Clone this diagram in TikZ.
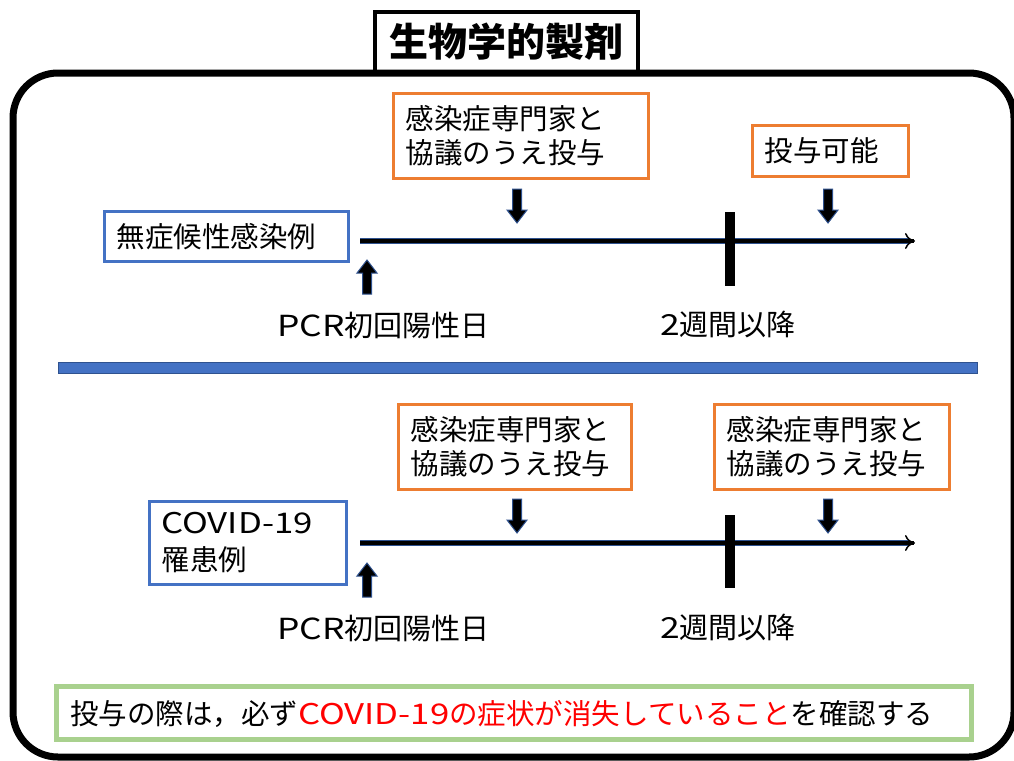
\documentclass[tikz,border=0pt]{standalone}
\usepackage{fontspec}
\setmainfont{Noto Sans CJK JP}
\newfontfamily\lat[FakeStretch=1.22]{Noto Sans CJK JP}
\usetikzlibrary{arrows.meta}
\definecolor{myorange}{HTML}{ED7D31}
\definecolor{myblue}{HTML}{4472C4}
\definecolor{mydarkblue}{HTML}{2F528F}
\definecolor{mygreen}{HTML}{A9D18E}
\tikzset{
  txt/.style={font=\fontsize{28.5}{34}\selectfont},
  obox/.style={draw=myorange, line width=3, inner xsep=12, inner ysep=0, align=left, anchor=north west, txt},
  bbox/.style={draw=myblue, line width=3, inner xsep=12, inner ysep=0, align=left, anchor=north west, txt},
  lbl/.style={font=\fontsize{29}{34}\selectfont, inner sep=0},
  tline/.style={line width=4, -{To[length=10, width=16, line width=1.5]}},
  tick/.style={line width=10},
  blockarrow/.style={fill=black, draw=mydarkblue, line width=1},
  downarrow/.pic={\path[blockarrow] (-4.5,0) -- (4.5,0) -- (4.5,21) -- (10,21) -- (0,34) -- (-10,21) -- (-4.5,21) -- cycle;},
  uparrow/.pic={\path[blockarrow] (-4.5,0) -- (4.5,0) -- (4.5,-21) -- (10,-21) -- (0,-34) -- (-10,-21) -- (-4.5,-21) -- cycle;}
}
\begin{document}
\begin{tikzpicture}[x=1pt,y=-1pt]
\useasboundingbox (0,0) rectangle (1014,760);
\fill[white] (0,0) rectangle (1014,760);
% title
\node[draw, line width=3.5, fill=white, minimum width=263, minimum height=60, inner sep=0,
  font=\fontsize{39}{39}\selectfont\bfseries] (title) at (506.5,42) {生物学的製剤};
% frame
\draw[line width=7, rounded corners=45] (13,73) rectangle (1014,757);

% ---------- upper section ----------
\node[obox, text width=231, minimum height=85] (u1) at (392,92) {感染症専門家と\\協議のうえ投与};
\node[obox, text width=132, minimum height=51] (u2) at (751,124) {投与可能};
\node[bbox, text width=220, minimum height=50] (u3) at (103,210) {無症候性感染例};

\coordinate (us) at (360,241);
\coordinate (ue) at (915,241);
\draw[mydarkblue, line width=5.5] (us) -- ([xshift=-6]ue);
\draw[tline] (us) -- (ue);
\coordinate (utt) at (730,212);
\coordinate (utb) at (730,286);
\draw[tick] (utt) -- (utb);
\pic at (517,189) {downarrow};
\pic at (828,189) {downarrow};
\pic at (367,294) {uparrow};
\node[lbl, anchor=west] (u4) at (277,325) {{\lat PCR}初回陽性日};
\node[lbl, anchor=west] (u5) at (660,325) {{\lat 2}週間以降};

% separator
\draw[fill=myblue, draw=mydarkblue, line width=1] (58,362) rectangle (977,373);

% ---------- lower section ----------
\node[obox, text width=209, minimum height=85] (l1) at (397,403) {感染症専門家と\\協議のうえ投与};
\node[obox, text width=211, minimum height=85] (l2) at (713,403) {感染症専門家と\\協議のうえ投与};
\node[bbox, text width=173, minimum height=83, font=\fontsize{28.5}{37}\selectfont] (l3) at (148,500) {{\lat COVID-19}\\罹患例};

\coordinate (ls) at (360,543);
\coordinate (le) at (915,543);
\draw[mydarkblue, line width=5.5] (ls) -- ([xshift=-6]le);
\draw[tline] (ls) -- (le);
\coordinate (ltt) at (730,515);
\coordinate (ltb) at (730,588);
\draw[tick] (ltt) -- (ltb);
\pic at (517,499) {downarrow};
\pic at (828,499) {downarrow};
\pic at (367,597) {uparrow};
\node[lbl, anchor=west] (l4) at (277,628) {{\lat PCR}初回陽性日};
\node[lbl, anchor=west] (l5) at (660,628) {{\lat 2}週間以降};

% ---------- note ----------
\node[draw=mygreen, line width=5, minimum width=915, minimum height=53, inner sep=0] (note) at (513.5,712.5) {};
\node[font=\fontsize{28.5}{30}\selectfont, inner sep=0, anchor=west] (notetext) at (70,714)
  {投与の際は，必ず\textcolor{red}{{\lat COVID-19}の症状が消失していること}を確認する};
\end{tikzpicture}
\end{document}
